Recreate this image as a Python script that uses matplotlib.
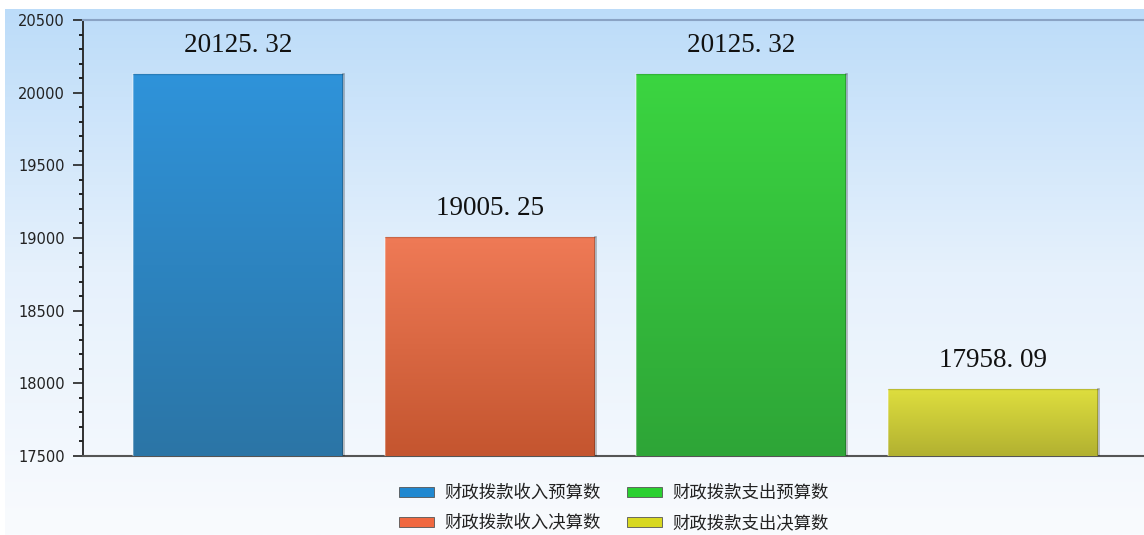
import numpy as np
import matplotlib
matplotlib.use("Agg")
import matplotlib.pyplot as plt
from matplotlib.colors import LinearSegmentedColormap
from matplotlib.patches import Patch
from matplotlib.ticker import MultipleLocator

plt.rcParams['font.family'] = ['Noto Sans CJK SC', 'DejaVu Sans']

# ============================= DATA =============================
categories = ["财政拨款收入预算数", "财政拨款收入决算数", "财政拨款支出预算数", "财政拨款支出决算数"]
values = [20125.32, 19005.25, 20125.32, 17958.09]
value_labels = ["20125. 32", "19005. 25", "20125. 32", "17958. 09"]
top_colors = ["#2f93da", "#ef7a56", "#3bd541", "#dede3e"]
bottom_colors = ["#2b75a6", "#c4552f", "#2ea537", "#b2b131"]
legend_colors = ["#2088d0", "#f06840", "#2ad030", "#d8d820"]
y_min, y_max = 17500, 20500

# ============================= FIGURE =============================
W, H = 1144, 535
fig = plt.figure(figsize=(W / 100, H / 100), dpi=100)

# background gradient
bg = fig.add_axes([0.004, 0, 0.996, 1 - 9 / H], zorder=-10)
bg_cmap = LinearSegmentedColormap.from_list("bg", ["#f9fbfe", "#e6f1fc", "#bcdcf9"])
grad = np.linspace(0, 1, 256).reshape(-1, 1)
bg.imshow(grad, aspect="auto", cmap=bg_cmap, origin="lower", extent=[0, 1, 0, 1])
bg.axis("off")

ax = fig.add_axes([83 / W, 1 - 456 / H, 1 - 83 / W, (456 - 20) / H])
ax.patch.set_alpha(0)

x = np.arange(len(values))
bars = ax.bar(x, values, width=0.834, color=top_colors, zorder=2)

for bar, c_top, c_bot in zip(bars, top_colors, bottom_colors):
    bx, bw, bh = bar.get_x(), bar.get_width(), bar.get_height()
    cmap = LinearSegmentedColormap.from_list("b", [c_bot, c_top])
    im = ax.imshow(grad, aspect="auto", cmap=cmap, origin="lower",
                   extent=[bx, bx + bw, y_min, bh], zorder=3)
    im.set_clip_path(bar)
    # darker right edge, lighter left edge
    ax.plot([bx + bw, bx + bw], [y_min, bh], color="#000000", alpha=0.25, lw=2, zorder=4)
    ax.plot([bx, bx], [y_min, bh], color="#ffffff", alpha=0.3, lw=1.5, zorder=4)
    ax.plot([bx, bx + bw], [bh, bh], color="#000000", alpha=0.15, lw=1, zorder=4)

ax.set_xlim(-0.616, 3.60)
ax.set_ylim(y_min, y_max)
ax.set_autoscale_on(False)

for xi, v, lab in zip(x, values, value_labels):
    ax.text(xi, v + 115, lab, ha="center", va="bottom", fontsize=19.5,
            family="Liberation Serif", color="#111111")

ax.yaxis.set_major_locator(MultipleLocator(500))
ax.yaxis.set_minor_locator(MultipleLocator(100))
ax.tick_params(axis="y", which="major", direction="out", length=7, width=1.2,
               labelsize=10.5, colors="#222222", pad=6)
ax.tick_params(axis="y", which="minor", direction="out", length=3, width=1.2)
ticks = np.arange(y_min, y_max + 1, 500)
ax.set_yticks(ticks)
ax.set_yticklabels([f"{int(t)}" for t in ticks], family="DejaVu Sans")
ax.set_xticks([])

ax.spines["left"].set_color("#222222")
ax.spines["left"].set_linewidth(1.3)
ax.spines["bottom"].set_color("#555555")
ax.spines["bottom"].set_linewidth(1.5)
ax.spines["top"].set_color("#8aa3c4")
ax.spines["top"].set_linewidth(1.5)
ax.spines["right"].set_visible(False)

handles = [Patch(facecolor=c, edgecolor="#555555", linewidth=0.6) for c in legend_colors]
fig.legend(handles, categories, ncol=2, loc="center", bbox_to_anchor=(614 / W, 1 - 508 / H),
           frameon=False, fontsize=12.5, handlelength=2.0, handleheight=0.55,
           columnspacing=1.5, labelspacing=0.7, handletextpad=0.6, labelcolor="#222222",
           borderpad=0.2)

fig.savefig("out.png", dpi=100)
